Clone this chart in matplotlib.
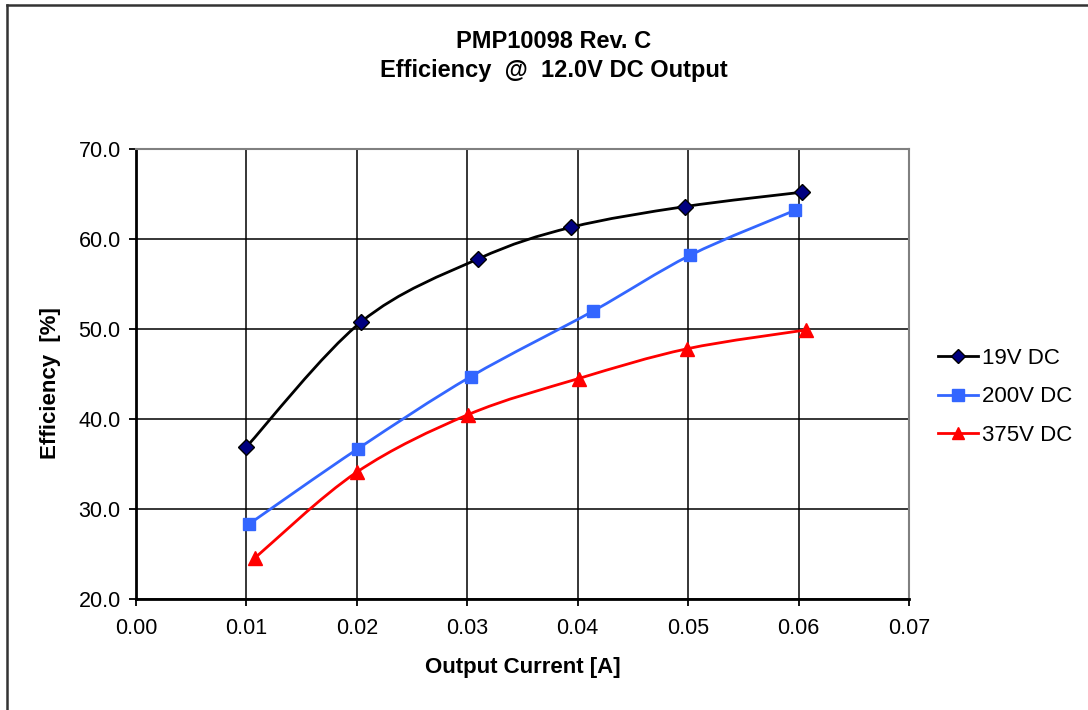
import numpy as np
import matplotlib
matplotlib.use("Agg")
import matplotlib.pyplot as plt
from matplotlib.path import Path
from matplotlib.patches import PathPatch
from matplotlib.lines import Line2D

plt.rcParams['font.family'] = ['Liberation Sans', 'DejaVu Sans']

# data
current_19v = [0.0100, 0.0204, 0.0310, 0.0394, 0.0497, 0.0603]
eff_19v = [36.9, 50.8, 57.8, 61.3, 63.6, 65.2]
current_200v = [0.0102, 0.0201, 0.0303, 0.0414, 0.0502, 0.0597]
eff_200v = [28.3, 36.7, 44.7, 52.0, 58.2, 63.2]
current_375v = [0.0108, 0.0200, 0.0301, 0.0401, 0.0499, 0.0607]
eff_375v = [24.6, 34.1, 40.5, 44.5, 47.8, 49.9]
series_names = ["19V DC", "200V DC", "375V DC"]

x_ticks = [0.00, 0.01, 0.02, 0.03, 0.04, 0.05, 0.06, 0.07]
y_ticks = [20.0, 30.0, 40.0, 50.0, 60.0, 70.0]


def smooth_path(ax, xs, ys):
    # excel style smoothed line: cubic bezier through the points, built in pixel space
    trans = ax.transData
    pts = trans.transform(np.column_stack([xs, ys]))
    n = len(pts)
    verts = [pts[0]]
    codes = [Path.MOVETO]
    for i in range(n - 1):
        p0 = pts[i - 1] if i > 0 else pts[i]
        p1 = pts[i]
        p2 = pts[i + 1]
        p3 = pts[i + 2] if i + 2 < n else pts[i + 1]
        c1 = p1 + (p2 - p0) / 6.0
        c2 = p2 - (p3 - p1) / 6.0
        verts += [c1, c2, p2]
        codes += [Path.CURVE4] * 3
    verts = trans.inverted().transform(np.array(verts))
    return Path(verts, codes)


fig = plt.figure(figsize=(10.88, 7.10), dpi=100)
ax = fig.add_axes([136 / 1088, 1 - 599 / 710, 773 / 1088, 450 / 710])

ax.set_xlim(0, 0.07)
ax.set_ylim(20, 70)
ax.set_xticks(x_ticks)
ax.set_yticks(y_ticks)
ax.set_xticklabels([f"{v:.2f}" for v in x_ticks])
ax.set_yticklabels([f"{v:.1f}" for v in y_ticks])
ax.grid(True, color="black", linewidth=1.1)
ax.set_axisbelow(True)
ax.tick_params(direction="out", length=5, width=1.3, labelsize=15.5)
ax.tick_params(axis="x", pad=9)
ax.tick_params(axis="y", pad=6)

for side in ["top", "right"]:
    ax.spines[side].set_color("#808080")
    ax.spines[side].set_linewidth(1.5)
for side in ["left", "bottom"]:
    ax.spines[side].set_color("black")
    ax.spines[side].set_linewidth(2)

styles = [
    dict(color="black", marker="D", mfc="#000080", mec="black", ms=8),
    dict(color="#3366FF", marker="s", mfc="#3366FF", mec="#3366FF", ms=9),
    dict(color="#FF0000", marker="^", mfc="#FF0000", mec="#FF0000", ms=10),
]
all_x = [current_19v, current_200v, current_375v]
all_y = [eff_19v, eff_200v, eff_375v]

fig.canvas.draw()
handles = []
for xs, ys, st, name in zip(all_x, all_y, styles, series_names):
    patch = PathPatch(smooth_path(ax, xs, ys), facecolor="none",
                      edgecolor=st["color"], linewidth=2, zorder=3)
    ax.add_patch(patch)
    ax.plot(xs, ys, linestyle="none", marker=st["marker"], ms=st["ms"],
            mfc=st["mfc"], mec=st["mec"], mew=1, zorder=4, clip_on=False)
    handles.append(Line2D([], [], color=st["color"], linewidth=2, marker=st["marker"],
                          ms=st["ms"] - 1, mfc=st["mfc"], mec=st["mec"], label=name))

ax.set_xlabel("Output Current [A]", fontsize=16, fontweight="bold", labelpad=13)
ax.set_ylabel("Efficiency  [%]", fontsize=16, fontweight="bold")
ax.yaxis.set_label_coords(-0.097, 0.48)

fig.text(554 / 1088, 1 - 42 / 710, "PMP10098 Rev. C", ha="center", va="center",
         fontsize=17, fontweight="bold")
fig.text(554 / 1088, 1 - 71 / 710, "Efficiency  @  12.0V DC Output", ha="center", va="center",
         fontsize=17, fontweight="bold")

fig.legend(handles=handles, loc="center left", bbox_to_anchor=(938 / 1088, 1 - 397 / 710),
           frameon=False, fontsize=16, handlelength=1.8, handletextpad=0.2,
           labelspacing=0.8, borderpad=0, borderaxespad=0)

# outer chart border
fig.add_artist(Line2D([7 / 1088, 7 / 1088], [0, 1 - 5 / 710], transform=fig.transFigure,
                      color="#333333", linewidth=1.8))
fig.add_artist(Line2D([7 / 1088, 1], [1 - 5 / 710, 1 - 5 / 710], transform=fig.transFigure,
                      color="#333333", linewidth=1.8))

fig.savefig("out.png", dpi=100)
